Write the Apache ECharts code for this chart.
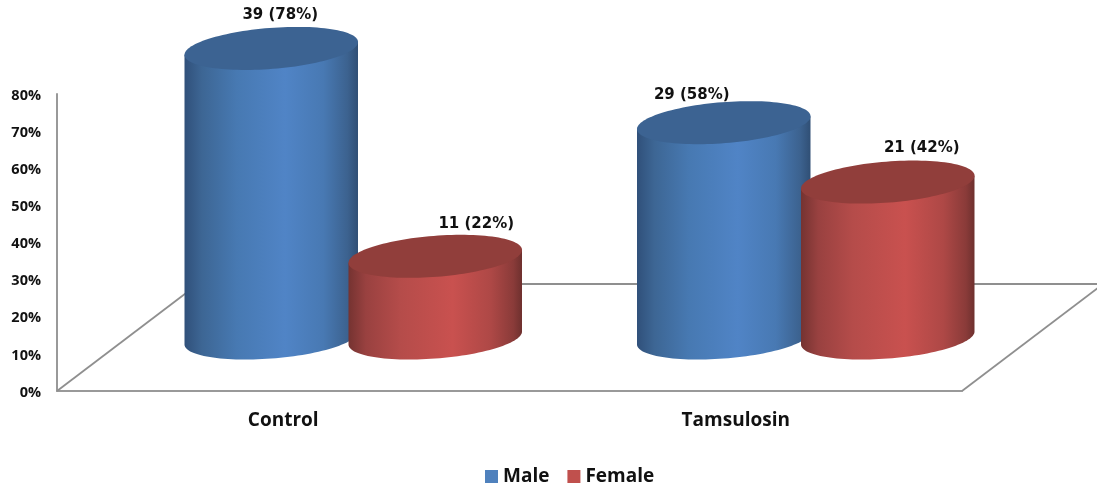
<!DOCTYPE html>
<html>
<head>
<meta charset="utf-8">
<style>html,body{margin:0;padding:0;background:#fff}#c{width:1097px;height:488px}</style>
<script src="https://cdn.jsdelivr.net/npm/echarts@6/dist/echarts.min.js"></script>
</head>
<body>
<div id="c"></div>
<script>
// Data
const categories = ['Control', 'Tamsulosin'];
const malePercent = [78, 58];
const femalePercent = [22, 42];
const maleCount = [39, 29];
const femaleCount = [11, 21];

// Pseudo-3D layout (pixels)
const FLOOR_DX = 141, FLOOR_DY = -107;
const BASE_LIFT = -53;
const RX = 87, RY = 20.5, TILT = 4.5 * Math.PI / 180;
const maleShift = -12, femaleShift = 152;
const maleLabelOffset = [[9, -33], [-32, -28]];
const femaleLabelOffset = [[41, -32], [34, -34]];

const LABEL_FONT = 'bold 15px "DejaVu Sans", sans-serif';
const AXIS_FONT = '"Open Sans", sans-serif';

const blueBody = [[0,'#30507a'],[0.1,'#3d6694'],[0.3,'#4779b2'],[0.58,'#5084c6'],[0.8,'#4879b3'],[0.94,'#3c628f'],[1,'#304f75']];
const redBody = [[0,'#753331'],[0.1,'#994140'],[0.3,'#b54c4a'],[0.6,'#c9514f'],[0.82,'#ae4846'],[0.95,'#8a3b39'],[1,'#6e302e']];
const blueTop = '#3c6392';
const redTop = '#913e3b';

function ellipsePoint(cx, cy, t) {
  return [
    cx + RX * Math.cos(t) * Math.cos(TILT) + RY * Math.sin(t) * Math.sin(TILT),
    cy - RX * Math.cos(t) * Math.sin(TILT) + RY * Math.sin(t) * Math.cos(TILT)
  ];
}

function cylinderRenderer(shift, bodyStops, topColor, counts, labelOffsets) {
  return function (params, api) {
    const cat = api.value(0), val = api.value(1);
    const top = api.coord([cat, val]);
    const base = api.coord([cat, 0]);
    const cx = top[0] + shift;
    const cyTop = top[1] + BASE_LIFT;
    const cyBase = base[1] + BASE_LIFT;
    const t0 = Math.atan((RY / RX) * Math.tan(TILT));
    const body = [ellipsePoint(cx, cyTop, t0)];
    for (let i = 0; i <= 60; i++) {
      body.push(ellipsePoint(cx, cyBase, t0 + Math.PI * i / 60));
    }
    body.push(ellipsePoint(cx, cyTop, t0 + Math.PI));
    const cap = [];
    for (let i = 0; i < 120; i++) {
      cap.push(ellipsePoint(cx, cyTop, Math.PI * 2 * i / 120));
    }
    const off = labelOffsets[cat];
    return {
      type: 'group',
      children: [
        { type: 'polygon', shape: { points: body }, style: {
            fill: { type: 'linear', x: 0, y: 0, x2: 1, y2: 0,
              colorStops: bodyStops.map(s => ({ offset: s[0], color: s[1] })) } } },
        { type: 'polygon', shape: { points: cap }, style: { fill: topColor } },
        { type: 'text', x: cx + off[0], y: cyTop + off[1], style: {
            text: counts[cat] + ' (' + val + '%)', font: LABEL_FONT, fill: '#111',
            align: 'center', verticalAlign: 'middle' } }
      ]
    };
  };
}

function floorRenderer(params) {
  const g = params.coordSys;
  const l = g.x, r = g.x + g.width, b = g.y + g.height;
  const lineStyle = { stroke: '#8f8f8f', lineWidth: 1.8, fill: 'none' };
  const seg = (x1, y1, x2, y2) => ({ type: 'line', shape: { x1, y1, x2, y2 }, style: lineStyle });
  return {
    type: 'group',
    children: [
      seg(l, b, l + FLOOR_DX, b + FLOOR_DY),
      seg(r, b, r + FLOOR_DX, b + FLOOR_DY),
      seg(l + FLOOR_DX, b + FLOOR_DY, r + FLOOR_DX, b + FLOOR_DY)
    ]
  };
}

const option = {
  backgroundColor: '#fff',
  animation: false,
  grid: { left: 57, right: 135, top: 94, bottom: 97, containLabel: false },
  legend: {
    left: 480, top: 462, itemWidth: 13, itemHeight: 13, itemGap: 18, icon: 'rect',
    data: ['Male', 'Female'],
    textStyle: { fontFamily: AXIS_FONT, fontWeight: 'bold', fontSize: 19, color: '#111' }
  },
  xAxis: {
    type: 'category', data: categories,
    axisLine: { lineStyle: { color: '#999', width: 2 } },
    axisTick: { show: false },
    axisLabel: { margin: 20, fontFamily: AXIS_FONT, fontWeight: 'bold', fontSize: 19, color: '#111' }
  },
  yAxis: {
    type: 'value', min: 0, max: 80, interval: 10,
    axisLine: { show: true, lineStyle: { color: '#999', width: 2 } },
    axisTick: { show: false },
    splitLine: { show: false },
    axisLabel: {
      formatter: '{v|{value}%}', margin: 16,
      rich: { v: { padding: [3, 0, 0, 0], fontFamily: AXIS_FONT, fontWeight: 'bold', fontSize: 14.5, color: '#111' } }
    }
  },
  series: [
    { type: 'custom', name: 'floor', silent: true, data: [[0, 0]], renderItem: floorRenderer, clip: false, z: 1 },
    { type: 'custom', name: 'Male', itemStyle: { color: '#4f81bd' }, clip: false, z: 2,
      encode: { x: 0, y: 1 },
      data: categories.map((c, i) => [i, malePercent[i]]),
      renderItem: cylinderRenderer(maleShift, blueBody, blueTop, maleCount, maleLabelOffset) },
    { type: 'custom', name: 'Female', itemStyle: { color: '#c0504d' }, clip: false, z: 3,
      encode: { x: 0, y: 1 },
      data: categories.map((c, i) => [i, femalePercent[i]]),
      renderItem: cylinderRenderer(femaleShift, redBody, redTop, femaleCount, femaleLabelOffset) }
  ]
};
echarts.init(document.getElementById('c')).setOption(option);
</script>
</body>
</html>
